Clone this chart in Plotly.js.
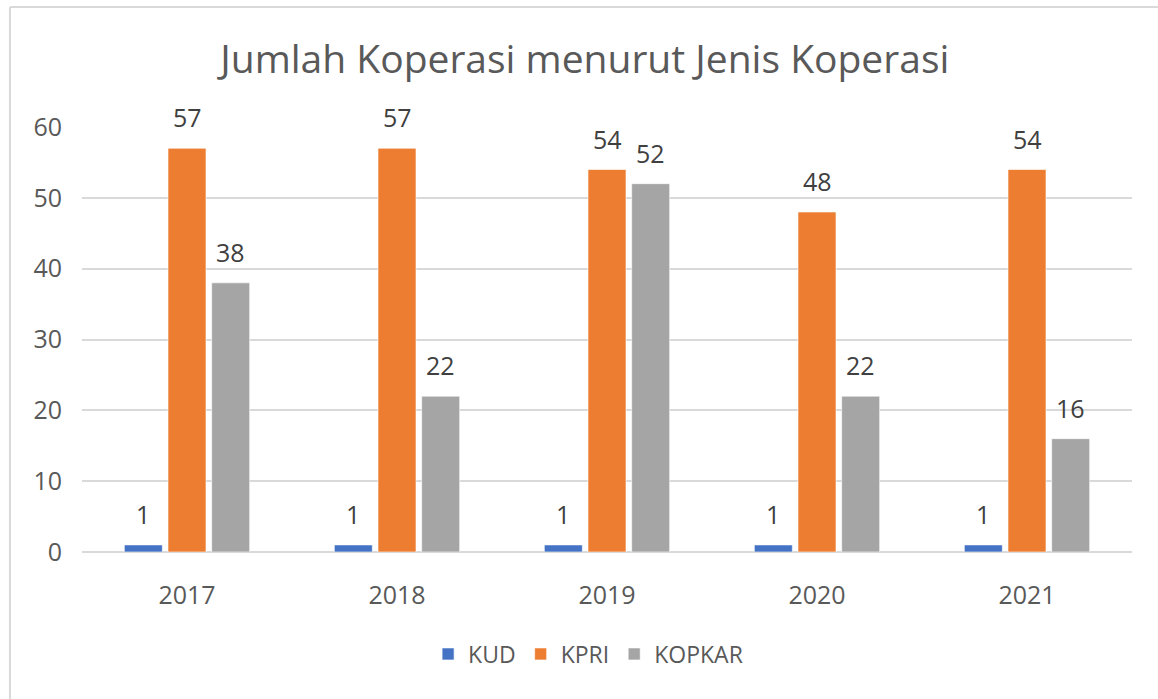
<!DOCTYPE html>
<html>
<head>
<meta charset="utf-8">
<script src="https://cdn.plot.ly/plotly-3.0.1.min.js"></script>
<style>html,body{margin:0;padding:0;background:#fff;}#chart{width:1158px;height:699px;}</style>
</head>
<body>
<div id="chart"></div>
<script>
const years = ['2017', '2018', '2019', '2020', '2021'];
const seriesNames = ['KUD', 'KPRI', 'KOPKAR'];
const kud = [1, 1, 1, 1, 1];
const kpri = [57, 57, 54, 48, 54];
const kopkar = [38, 22, 52, 22, 16];
const colors = ['#4472C4', '#ED7D31', '#A5A5A5'];
const yTicks = [0, 10, 20, 30, 40, 50, 60];

const font = '"Open Sans", "Noto Sans", sans-serif';
const allSeries = [kud, kpri, kopkar];
const bargap = 0.376;
const slot = (1 - bargap) / 3;

const traces = allSeries.map((vals, k) => ({
  type: 'bar',
  name: seriesNames[k],
  x: years,
  y: vals,
  marker: {color: colors[k], line: {color: 'rgba(255,255,255,0.6)', width: 1}},
  hoverinfo: 'x+y+name'
}));

const annotations = [];
allSeries.forEach((vals, k) => {
  vals.forEach((v, i) => {
    annotations.push({
      x: i + (k - 1) * slot,
      y: v,
      xref: 'x', yref: 'y',
      text: String(Math.round(v)),
      showarrow: false,
      yanchor: 'middle',
      yshift: 31,
      font: {family: font, size: 25, color: '#404040'}
    });
  });
});

const layout = {
  width: 1158, height: 699,
  margin: {l: 82, r: 26, t: 127, b: 147},
  paper_bgcolor: '#ffffff',
  plot_bgcolor: '#ffffff',
  title: {
    text: 'Jumlah Koperasi menurut Jenis Koperasi',
    font: {family: font, size: 39, color: '#595959'},
    x: 0.505, xanchor: 'center',
    y: 0.915, yanchor: 'middle'
  },
  barmode: 'group',
  bargap: bargap,
  bargroupgap: 0.13,
  xaxis: {
    type: 'category',
    tickfont: {family: font, size: 25, color: '#595959'},
    showgrid: false,
    zeroline: false,
    showline: false,
    ticks: '',
    ticklabelstandoff: 26
  },
  yaxis: {
    range: [0, 60],
    tickvals: yTicks,
    ticktext: yTicks.map(String),
    tickfont: {family: font, size: 25, color: '#595959'},
    showgrid: true,
    gridcolor: '#D9D9D9',
    gridwidth: 2,
    zeroline: true,
    zerolinecolor: '#D9D9D9',
    zerolinewidth: 2,
    showline: false,
    ticks: '',
    ticklabelstandoff: 19
  },
  showlegend: true,
  legend: {
    orientation: 'h',
    x: 0.482, xanchor: 'center',
    y: -0.24, yanchor: 'middle',
    font: {family: font, size: 23, color: '#595959'},
    itemwidth: 30,
    traceorder: 'normal'
  },
  annotations: annotations,
  shapes: [
    {type: 'line', xref: 'paper', yref: 'paper', x0: -0.0686, x1: 1.03, y0: (552 - 7) / 425, y1: (552 - 7) / 425, line: {color: '#D9D9D9', width: 2}},
    {type: 'line', xref: 'paper', yref: 'paper', x0: -0.0686, x1: -0.0686, y0: (552 - 7) / 425, y1: -0.4, line: {color: '#D9D9D9', width: 2}}
  ]
};

Plotly.newPlot('chart', traces, layout, {displayModeBar: false, responsive: false});
</script>
</body>
</html>
